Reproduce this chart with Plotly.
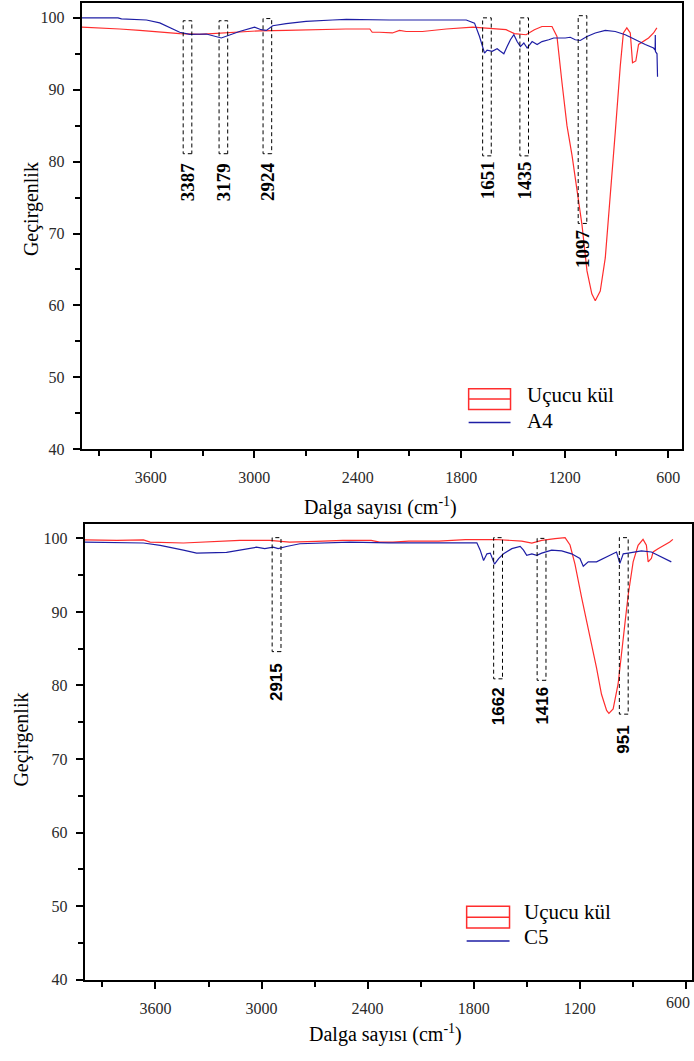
import plotly.graph_objects as go

# ---------------- data ----------------
# Top panel: Uçucu kül (fly ash) and A4
fa1_x = [4000, 3896, 3780, 3664, 3548, 3432, 3317, 3201, 3086, 2970, 2816, 2662, 2469, 2330,
         2316, 2274, 2199, 2158, 2119, 2025, 1887, 1733, 1617, 1540, 1492, 1424, 1376, 1332,
         1274, 1245, 1216, 1187, 1158, 1129, 1100, 1071, 1043, 1023, 994, 965, 936, 907, 878,
         860, 840, 820, 807, 788, 772, 743, 714, 685, 666]
fa1_y = [98.7, 98.6, 98.45, 98.25, 98.0, 97.8, 97.7, 97.9, 98.05, 98.2, 98.25, 98.35, 98.45, 98.45,
         98.0, 98.0, 97.9, 98.25, 98.1, 98.1, 98.45, 98.7, 98.45, 98.35, 97.8, 97.65, 98.35, 98.8,
         98.8, 97.4, 91.0, 85.0, 80.9, 76.3, 71.2, 64.8, 61.6, 60.65, 62.0, 66.6, 74.9, 84.1, 93.3,
         97.9, 98.6, 97.9, 93.75, 94.0, 96.3, 96.7, 97.2, 97.9, 98.6]

a4_x = [4000, 3790, 3770, 3625, 3548, 3432, 3374, 3278, 3191, 3154, 3086, 2998, 2960, 2930, 2893,
        2815, 2700, 2546, 2466, 2216, 1771, 1723, 1694, 1665, 1650, 1621, 1592, 1573, 1553, 1534,
        1515, 1495, 1476, 1457, 1437, 1418, 1389, 1360, 1332, 1293, 1264, 1197, 1168, 1139, 1110,
        1071, 1023, 965, 907, 849, 791, 733, 685, 676, 675, 674, 665, 662]
a4_y = [100.0, 100.0, 99.85, 99.7, 99.3, 98.0, 97.7, 97.75, 97.2, 97.5, 98.1, 98.7, 98.35, 98.25, 98.9,
        99.2, 99.5, 99.7, 99.8, 99.7, 99.7, 99.27, 97.4, 95.1, 95.5, 95.35, 95.7, 95.35, 95.0, 96.0,
        96.95, 97.65, 96.7, 96.0, 96.5, 95.8, 96.7, 96.3, 96.7, 96.95, 97.2, 97.2, 97.3, 96.95, 96.85,
        97.4, 97.9, 98.25, 98.1, 97.65, 96.95, 96.3, 95.8, 95.5, 97.6, 95.3, 95.0, 91.8]

# Bottom panel: Uçucu kül (fly ash) and C5
fa2_x = [4000, 3818, 3668, 3630, 3442, 3292, 3123, 2954, 2841, 2690, 2540, 2380, 2332, 2257, 2167,
         1998, 1847, 1678, 1528, 1471, 1415, 1340, 1283, 1255, 1227, 1189, 1152, 1133, 1105, 1077,
         1048, 1035, 1011, 983, 964, 945, 926, 898, 870, 842, 823, 813, 795, 785, 757, 719, 691, 673]
fa2_y = [99.8, 99.73, 99.8, 99.5, 99.37, 99.5, 99.73, 99.73, 99.5, 99.6, 99.73, 99.73, 99.5, 99.5, 99.63,
         99.63, 99.82, 99.85, 99.63, 99.37, 99.73, 99.96, 100.1, 99.1, 96.5, 91.9, 87.8, 85.6, 82.4, 78.8,
         76.6, 76.2, 76.8, 80.2, 84.7, 88.3, 92.3, 96.8, 99.06, 99.87, 99.06, 96.8, 97.26, 98.15, 98.6,
         99.06, 99.5, 99.87]

c5_x = [4000, 3668, 3573, 3517, 3442, 3367, 3292, 3198, 3123, 3029, 2982, 2934, 2906, 2859, 2783,
        2652, 2501, 2280, 1782, 1763, 1744, 1725, 1706, 1682, 1659, 1631, 1584, 1537, 1518, 1500,
        1471, 1443, 1415, 1359, 1302, 1246, 1199, 1180, 1152, 1105, 1067, 1020, 992, 973, 954, 926,
        851, 795, 738, 682]
c5_y = [99.5, 99.37, 99.05, 98.8, 98.4, 98.0, 98.0, 98.1, 98.4, 98.8, 98.6, 98.8, 98.6, 98.9, 99.27,
        99.4, 99.5, 99.4, 99.4, 98.4, 97.0, 97.9, 98.0, 96.5, 97.26, 97.9, 98.6, 98.9, 98.4, 97.7,
        97.9, 97.7, 98.0, 98.4, 98.3, 97.9, 97.26, 96.2, 96.8, 96.8, 97.26, 97.9, 98.15, 96.6, 97.9, 98.0,
        98.3, 98.15, 97.5, 96.8]

# marked peaks (wavenumber labels)
peaks_top = [3387, 3179, 2924, 1651, 1435, 1097]
peaks_bot = [2915, 1662, 1416, 951]

x_ticks = [600, 1200, 1800, 2400, 3000, 3600]
y_ticks = [40, 50, 60, 70, 80, 90, 100]

names_top = ["Uçucu kül", "A4"]
names_bot = ["Uçucu kül", "C5"]

# ---------------- layout helpers ----------------
W, H = 694, 1061
def PX(p):
    return p / W
def PY(p):
    return 1 - p / H

RED = "rgb(255,45,45)"
BLUE = "rgb(30,30,165)"
SERIF = "Liberation Serif"

# dashed marker boxes: (top value, bottom value, label centre), per panel
box_top_ext = {3387: (99.6, 81.1, 77.2), 3179: (99.6, 81.1, 77.2), 2924: (99.9, 81.1, 77.2),
               1651: (100.0, 80.8, 77.4), 1435: (100.0, 80.8, 77.4), 1097: (100.3, 71.4, 67.9)}
box_bot_ext = {2915: (100.1, 84.6, 80.4), 1662: (100.1, 80.9, 77.2), 1416: (100.0, 80.7, 77.2),
               951: (100.1, 76.1, 72.6)}
HALF_W = 25

fig = go.Figure()
fig.add_trace(go.Scatter(x=fa1_x, y=fa1_y, mode="lines", name=names_top[0],
                         line=dict(color=RED, width=1.2), xaxis="x", yaxis="y", showlegend=False))
fig.add_trace(go.Scatter(x=a4_x, y=a4_y, mode="lines", name=names_top[1],
                         line=dict(color=BLUE, width=1.2), xaxis="x", yaxis="y", showlegend=False))
fig.add_trace(go.Scatter(x=fa2_x, y=fa2_y, mode="lines", name=names_bot[0],
                         line=dict(color=RED, width=1.2), xaxis="x2", yaxis="y2", showlegend=False))
fig.add_trace(go.Scatter(x=c5_x, y=c5_y, mode="lines", name=names_bot[1],
                         line=dict(color=BLUE, width=1.2), xaxis="x2", yaxis="y2", showlegend=False))

shapes = []
annotations = []

def add_peaks(peaks, ext, xr, yr, font_family, font_size):
    for p in peaks:
        top, bot, lab = ext[p]
        shapes.append(dict(type="rect", xref=xr, yref=yr, x0=p - HALF_W, x1=p + HALF_W,
                           y0=bot, y1=top, line=dict(color="black", width=1, dash="4px,3px"),
                           layer="above"))
        annotations.append(dict(x=p, y=lab, xref=xr, yref=yr, text="<b>%d</b>" % p,
                                textangle=-90, showarrow=False, xanchor="center", yanchor="middle",
                                font=dict(family=font_family, size=font_size, color="black")))

add_peaks(peaks_top, box_top_ext, "x", "y", SERIF, 19)
add_peaks(peaks_bot, box_bot_ext, "x2", "y2", "Liberation Sans", 17)

tick_font = dict(family=SERIF, size=16, color="#2a2a2a")

def axis_common():
    return dict(showline=True, linecolor="black", linewidth=2, mirror=True,
                ticks="outside", ticklen=7, tickwidth=1.5, tickcolor="black",
                showgrid=False, zeroline=False,
                tickfont=tick_font,
                minor=dict(ticks="outside", ticklen=5, tickwidth=1.5, tickcolor="black", showgrid=False))

xa = axis_common(); xa.update(domain=[PX(82), PX(684)], range=[4000, 520], tickvals=x_ticks,
                              anchor="y", ticklabelstandoff=6)
xa["minor"].update(dtick=300, tick0=0)
ya = axis_common(); ya.update(domain=[PY(453), PY(3)], range=[40, 102.07], tickvals=y_ticks,
                              anchor="x", ticklabelstandoff=5)
ya["minor"].update(dtick=5, tick0=0)
xa2 = axis_common(); xa2.update(domain=[PX(85), 1.0], range=[4000, 565], tickvals=x_ticks,
                                anchor="y2", ticklabelstandoff=6)
xa2["minor"].update(dtick=300, tick0=0)
ya2 = axis_common(); ya2.update(domain=[PY(988), PY(528)], range=[40, 102.02], tickvals=y_ticks,
                                anchor="x2", ticklabelstandoff=5)
ya2["minor"].update(dtick=5, tick0=0)

# the bottom panel's last tick label sits on the window edge; keep it inside the page
edge_tick = x_ticks[0]
annotations.append(dict(x=edge_tick, xref="x2", y=PY(988 + 13), yref="paper", text=str(edge_tick),
                        showarrow=False, xanchor="right", yanchor="top", xshift=5,
                        font=tick_font, borderpad=0))

# axis titles
title_font = dict(family=SERIF, size=20, color="black")
annotations += [
    dict(x=PX(31), y=PY(211), xref="paper", yref="paper", text="Geçirgenlik", textangle=-90,
         showarrow=False, xanchor="center", yanchor="middle", font=title_font),
    dict(x=PX(22), y=PY(746), xref="paper", yref="paper", text="Geçirgenlik", textangle=-90,
         showarrow=False, xanchor="center", yanchor="middle", font=title_font),
    dict(x=PX(382), y=PY(511), xref="paper", yref="paper", text="Dalga sayısı (cm<sup>-1</sup>)",
         showarrow=False, xanchor="center", yanchor="middle", font=title_font),
    dict(x=PX(387), y=PY(1042), xref="paper", yref="paper", text="Dalga sayısı (cm<sup>-1</sup>)",
         showarrow=False, xanchor="center", yanchor="middle", font=title_font),
]

# legends (Origin-style glyphs)
leg_font = dict(family=SERIF, size=21, color="black")
def add_legend(x0, x1, box_top, box_bot, line_y, txt_x, txt1_y, txt2_y, names):
    shapes.append(dict(type="rect", xref="paper", yref="paper", x0=PX(x0), x1=PX(x1),
                       y0=PY(box_bot), y1=PY(box_top), line=dict(color=RED, width=1.5)))
    mid = (box_top + box_bot) / 2
    shapes.append(dict(type="line", xref="paper", yref="paper", x0=PX(x0), x1=PX(x1),
                       y0=PY(mid), y1=PY(mid), line=dict(color=RED, width=1.5)))
    shapes.append(dict(type="line", xref="paper", yref="paper", x0=PX(x0), x1=PX(x1),
                       y0=PY(line_y), y1=PY(line_y), line=dict(color=BLUE, width=1.5)))
    annotations.append(dict(x=PX(txt_x), y=PY(txt1_y), xref="paper", yref="paper", text=names[0],
                            showarrow=False, xanchor="left", yanchor="middle", font=leg_font))
    annotations.append(dict(x=PX(txt_x), y=PY(txt2_y), xref="paper", yref="paper", text=names[1],
                            showarrow=False, xanchor="left", yanchor="middle", font=leg_font))

add_legend(470, 512, 392, 413, 426, 527, 398, 425, names_top)
add_legend(468, 511, 914, 936, 949, 524, 920, 945, names_bot)

fig.update_layout(
    width=W, height=H, autosize=False,
    margin=dict(l=0, r=0, t=0, b=0, pad=0),
    paper_bgcolor="white", plot_bgcolor="white",
    xaxis=xa, yaxis=ya, xaxis2=xa2, yaxis2=ya2,
    shapes=shapes, annotations=annotations,
    showlegend=False,
)

# remove the default page margin so the figure sits at the window origin
fig.write_html("out.html", config={"displayModeBar": False},
               post_script="document.body.style.margin='0';document.body.style.overflow='hidden';")
